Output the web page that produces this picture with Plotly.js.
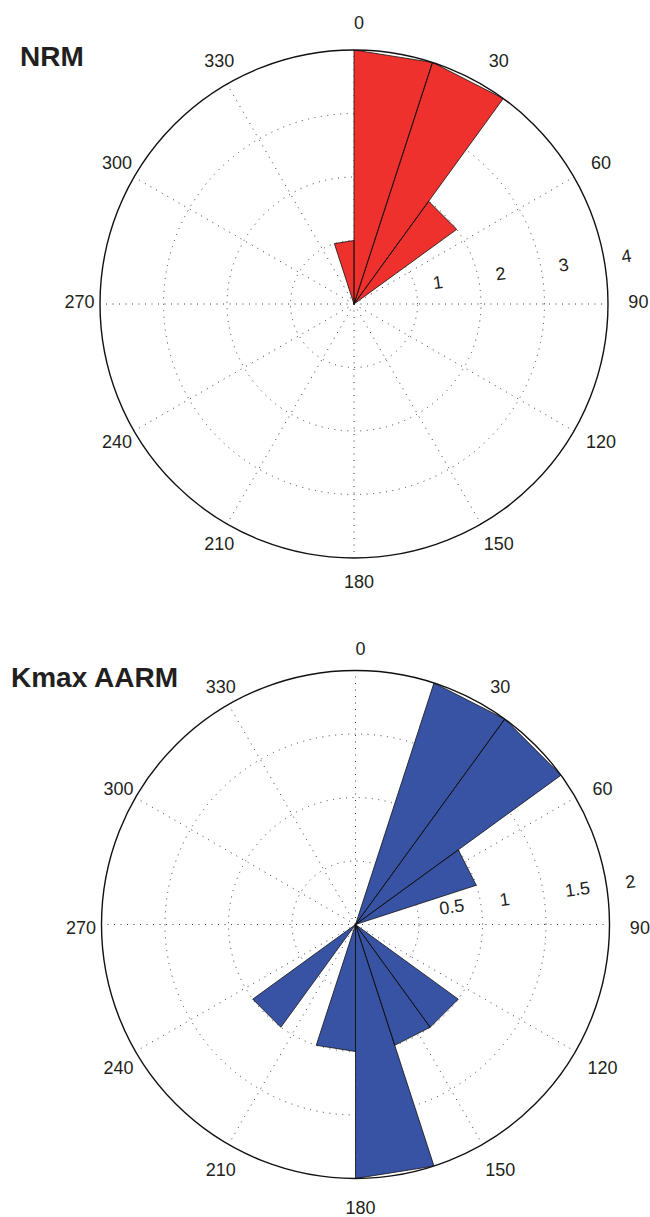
<!DOCTYPE html>
<html><head><meta charset="utf-8">
<script src="https://cdn.plot.ly/plotly-3.0.1.min.js"></script>
<style>html,body{margin:0;padding:0;background:#fff}</style>
</head><body><div id="chart" style="width:650px;height:1217px"></div>
<script>
// 20 rose bins of 18 degrees (compass angles, clockwise from north)
const binWidth = 18;
const binStarts = [0,18,36,54,72,90,108,126,144,162,180,198,216,234,252,270,288,306,324,342];
const nrmCounts  = [4,4,2,0,0,0,0,0,0,0,0,0,0,0,0,0,0,0,0,1];
const aarmCounts = [0,2,2,1,0,0,0,1,1,2,1,0,1,0,0,0,0,0,0,0];

const angleTicks  = [0,30,60,90,120,150,180,210,240,270,300,330];
const angleLabels = ['0','30','60','90','120','150','180','210','240','270','300','330'];
const nrmRadialTicks   = [1,2,3,4];
const nrmRadialLabels  = ['1','2','3','4'];
const aarmRadialTicks  = [0.5,1,1.5,2];
const aarmRadialLabels = ['0.5','1','1.5','2'];

const titles = ['NRM','Kmax AARM'];

function wedges(counts){
  const r=[], t=[];
  counts.forEach((c,i)=>{
    if(c>0){
      const a=binStarts[i];
      r.push(0,c,c,0,null);
      t.push(a,a,a+binWidth,a,null);
    }
  });
  return {r:r, theta:t};
}

const nb = '\u00a0';
const txtColor = '#231f20';
const fontFam = 'Liberation Sans, Arial, sans-serif';
const gridStyle = {showgrid:true, gridcolor:'#3a3a3a', gridwidth:1, griddash:'1px,5.5px'};

// square domain helper: centre (cx, cy) and half-size h in page pixels
const W = 650, H = 1217;
function dom(cx, cy, h){ return {x:[(cx-h)/W, (cx+h)/W], y:[1-(cy+h)/H, 1-(cy-h)/H]}; }
const centres = [[354, 304], [355.5, 924.5]];
const labelShift = [[5, 0], [5, 5.5]];   // small nudge of the label layer
const R = 254;            // plot circle radius
const labelScale = 1.13;  // the label layer subplot is this much larger
const labelRing = 1.1;    // angle labels sit at 1.1 x the outer radius

function polarLayout(domain, rmax, rticks){
  return {
    domain: domain,
    bgcolor: 'white',
    angularaxis: Object.assign({
      rotation: 90, direction: 'clockwise',
      tickmode: 'array', tickvals: angleTicks,
      showticklabels: false, ticks: '',
      showline: true, linecolor: '#111', linewidth: 1.4
    }, gridStyle),
    radialaxis: Object.assign({
      range: [0, rmax], angle: 8,
      tickmode: 'array', tickvals: rticks, showticklabels: false,
      showline: false, ticks: ''
    }, gridStyle)
  };
}
function labelLayerLayout(domain, rmax, rticks, rlabels, pads){
  return {
    domain: domain,
    bgcolor: 'rgba(0,0,0,0)',
    angularaxis: {rotation:90, direction:'clockwise', showticklabels:false, ticks:'',
                  showline:false, showgrid:false},
    radialaxis: {range:[0, rmax*labelScale], angle: 8, side:'counterclockwise',
                 tickmode:'array', tickvals: rticks,
                 ticktext: rlabels.map(s => nb.repeat(pads[s.length]) + s),
                 tickangle: 0, showline:false, showgrid:false, ticks:'',
                 tickfont:{family:fontFam, size:18, color:txtColor}}
  };
}

function angleLabelTrace(subplot, rmax){
  return {type:'scatterpolar', subplot:subplot, mode:'text',
    r: angleTicks.map(()=>rmax*labelRing), theta: angleTicks, text: angleLabels,
    textposition:'middle center', cliponaxis:false, hoverinfo:'skip',
    textfont:{family:fontFam, size:18, color:txtColor}};
}

const w1 = wedges(nrmCounts), w2 = wedges(aarmCounts);
const data = [
  {type:'scatterpolar', subplot:'polar', r:w1.r, theta:w1.theta, mode:'lines', fill:'toself',
   fillcolor:'rgb(238,49,44)', line:{color:'#111', width:0.8}, connectgaps:false, hoverinfo:'skip'},
  {type:'scatterpolar', subplot:'polar2', r:w2.r, theta:w2.theta, mode:'lines', fill:'toself',
   fillcolor:'rgb(56,83,164)', line:{color:'#111', width:0.8}, connectgaps:false, hoverinfo:'skip'},
  angleLabelTrace('polar3', 4),
  angleLabelTrace('polar4', 2)
];

const layout = {
  width: W, height: H,
  margin: {l:0, r:0, t:0, b:0},
  paper_bgcolor: 'white',
  showlegend: false,
  polar:  polarLayout(dom(centres[0][0], centres[0][1], R), 4, nrmRadialTicks),
  polar2: polarLayout(dom(centres[1][0], centres[1][1], R), 2, aarmRadialTicks),
  polar3: labelLayerLayout(dom(centres[0][0]+labelShift[0][0], centres[0][1]+labelShift[0][1], R*labelScale),
                           4, nrmRadialTicks, nrmRadialLabels, {1:7, 3:11}),
  polar4: labelLayerLayout(dom(centres[1][0]+labelShift[1][0], centres[1][1]+labelShift[1][1], R*labelScale),
                           2, aarmRadialTicks, aarmRadialLabels, {1:8, 3:12}),
  annotations: [
    {text: '<b>'+titles[0]+'</b>', xref:'paper', yref:'paper', x: 18/W, y: 1-57/H,
     xanchor:'left', yanchor:'middle', showarrow:false, font:{family:fontFam, size:28, color:txtColor}},
    {text: '<b>'+titles[1]+'</b>', xref:'paper', yref:'paper', x: 9/W, y: 1-677/H,
     xanchor:'left', yanchor:'middle', showarrow:false, font:{family:fontFam, size:28, color:txtColor}}
  ]
};

Plotly.newPlot('chart', data, layout, {staticPlot:true, displayModeBar:false});
</script></body></html>
